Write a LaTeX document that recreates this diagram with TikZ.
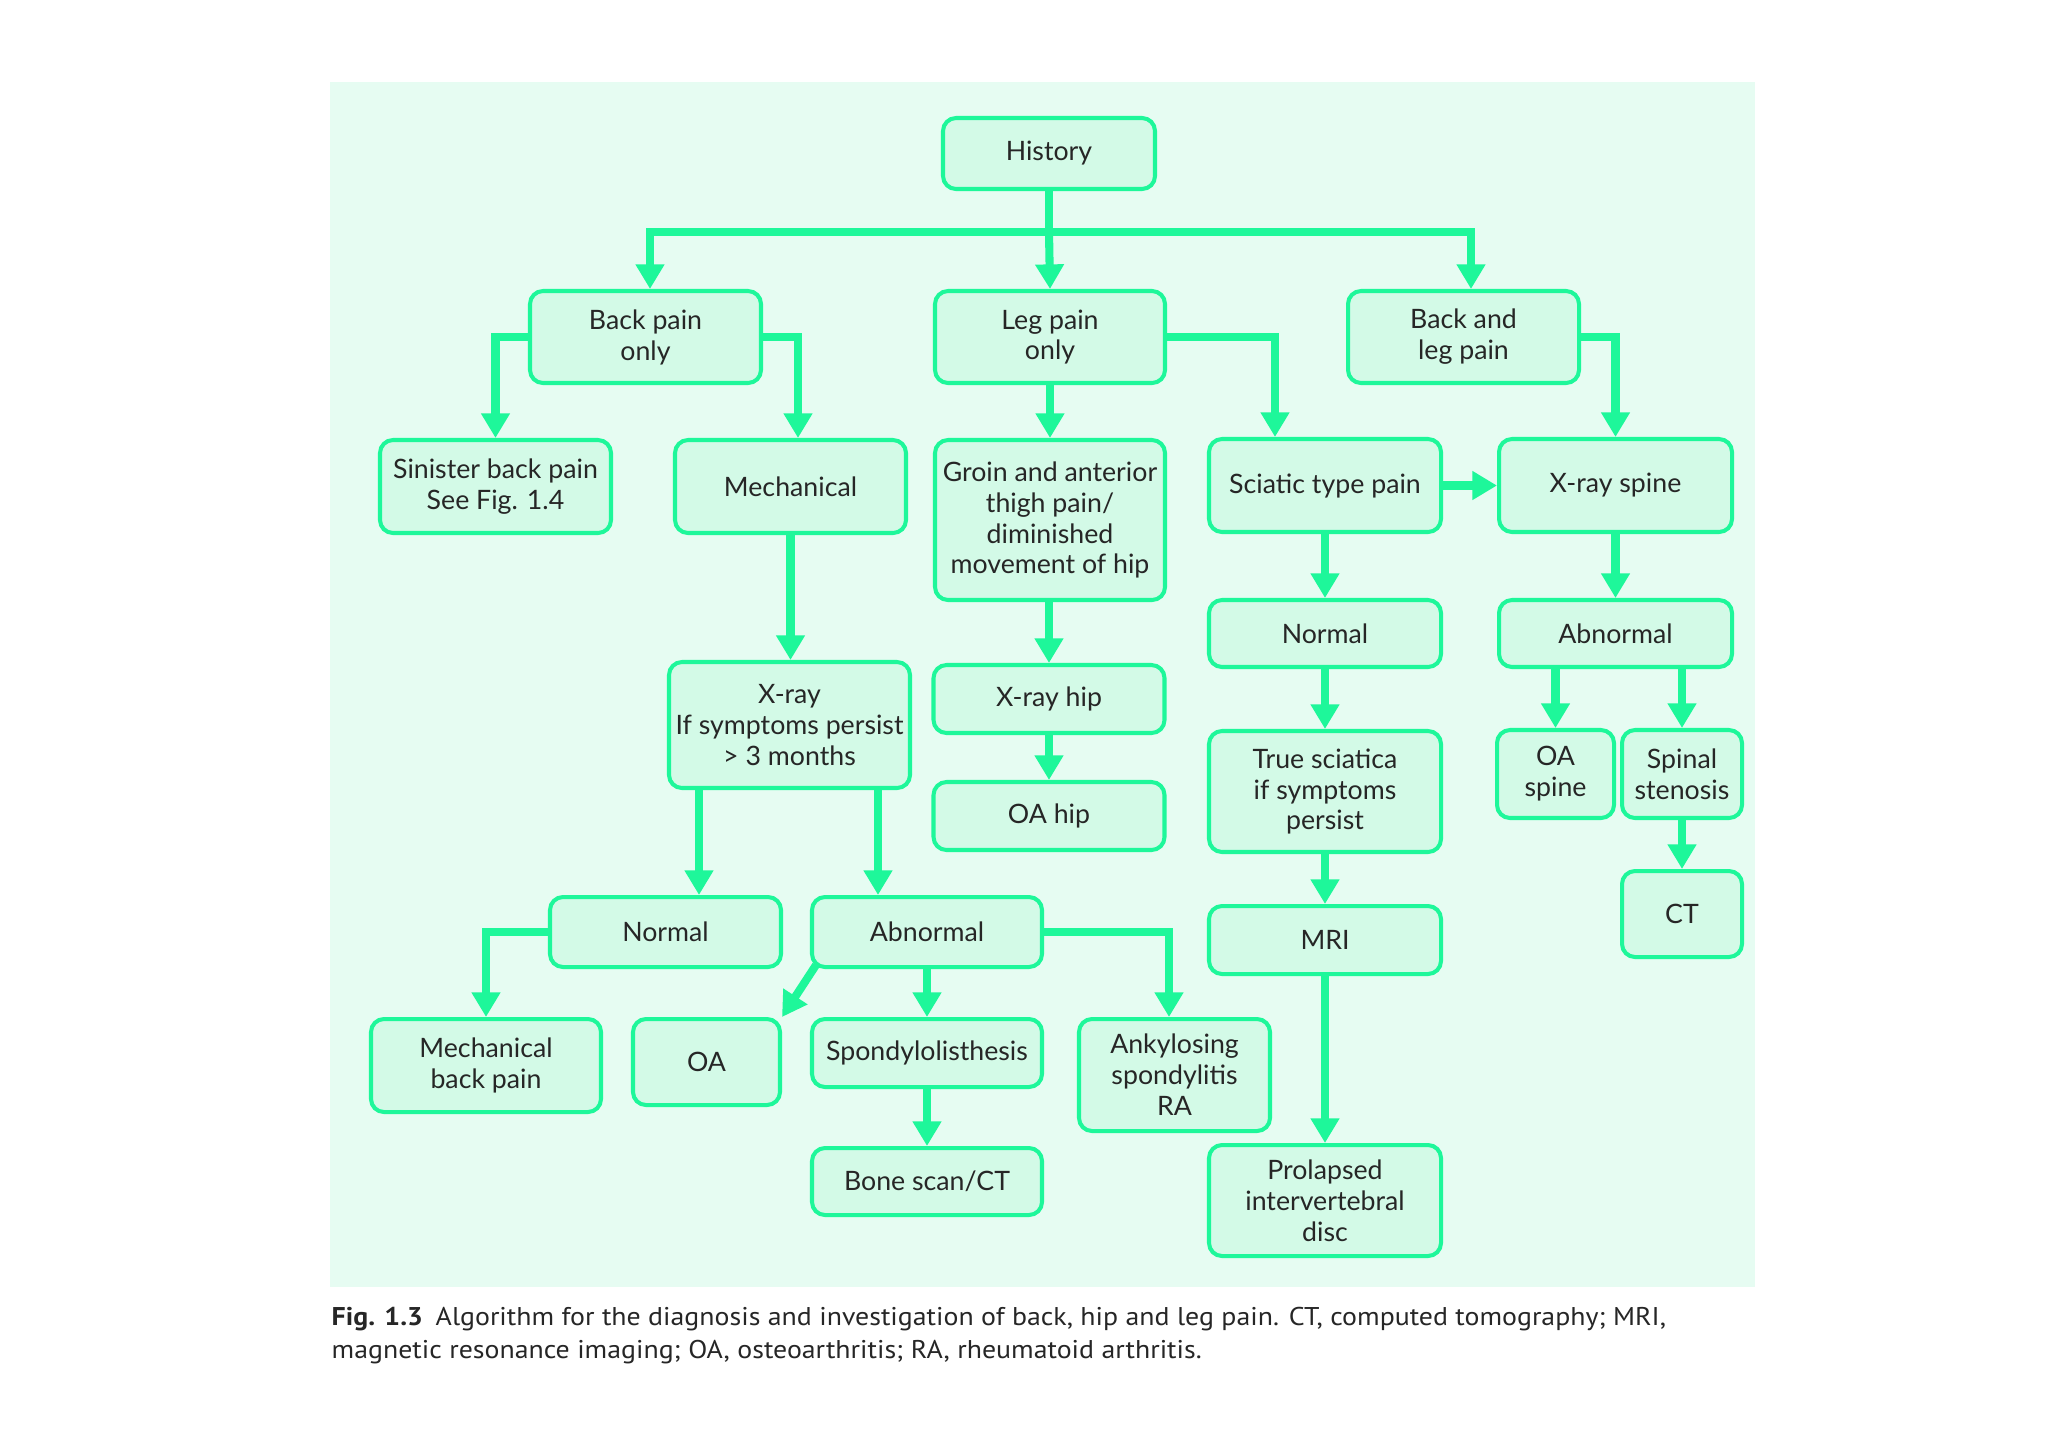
\documentclass[tikz,border=0pt]{standalone}
\usepackage{fontspec}
\setmainfont{Lato}
\newfontfamily\capfont[FakeStretch=1.085]{PT Sans}
\usetikzlibrary{arrows.meta,calc}
\definecolor{gline}{HTML}{1EF79A}
\definecolor{gfill}{HTML}{D3FAE7}
\definecolor{gback}{HTML}{E6FCF2}
\begin{document}
\begin{tikzpicture}[x=0.1mm,y=-0.1mm,
  box/.style={draw=gline, fill=gfill, line width=1.15pt, rounded corners=1.3mm,
    align=center, inner sep=0pt, text=black!85,
    font=\fontsize{7.6}{8.8}\selectfont},
  conn/.style={draw=gline, line width=2.3pt},
  arr/.style={conn, -{Triangle[width=7.8pt,length=7pt]}}]
\useasboundingbox (0,0) rectangle (2048,1447);
\fill[white] (0,0) rectangle (2048,1447);
\fill[gback] (330,82) rectangle (1755,1287);

% nodes
\node[box, minimum width=21.2mm, minimum height=7.1mm] (history) at (1049,153.5) {History};
\node[box, minimum width=23.1mm, minimum height=9.2mm] (backpain) at (645.5,337) {Back pain\\only};
\node[box, minimum width=23.0mm, minimum height=9.2mm] (legpain) at (1050,337) {Leg pain\\only};
\node[box, minimum width=23.1mm, minimum height=9.2mm] (backleg) at (1463.5,337) {Back and\\leg pain};
\node[box, minimum width=23.1mm, minimum height=9.3mm] (sinister) at (495.5,486.5) {Sinister back pain\\See Fig. 1.4};
\node[box, minimum width=23.1mm, minimum height=9.3mm] (mech) at (790.5,486.5) {Mechanical};
\node[box, minimum width=23.0mm, minimum height=16.0mm] (groin) at (1050,520) {Groin and anterior\\thigh pain/\\diminished\\movement of hip};
\node[box, minimum width=23.2mm, minimum height=9.3mm] (sciatic) at (1325,485.5) {Sciatic type pain};
\node[box, minimum width=23.3mm, minimum height=9.3mm] (xspine) at (1615.5,485.5) {X-ray spine};
\node[box, minimum width=23.2mm, minimum height=6.7mm] (normR) at (1325,633.5) {Normal};
\node[box, minimum width=23.3mm, minimum height=6.7mm] (abnR) at (1615.5,633.5) {Abnormal};
\node[box, minimum width=24.1mm, minimum height=12.6mm] (xray) at (789.5,725) {X-ray\\If symptoms persist\\> 3 months};
\node[box, minimum width=23.1mm, minimum height=6.8mm] (xhip) at (1049,699) {X-ray hip};
\node[box, minimum width=23.1mm, minimum height=6.8mm] (oahip) at (1049,816) {OA hip};
\node[box, minimum width=23.2mm, minimum height=12.1mm] (truesc) at (1325,791.5) {True sciatica\\if symptoms\\persist};
\node[box, minimum width=11.7mm, minimum height=8.8mm] (oaspine) at (1555.5,774) {OA\\spine};
\node[box, minimum width=12.0mm, minimum height=8.8mm] (stenosis) at (1682,774) {Spinal\\stenosis};
\node[box, minimum width=12.0mm, minimum height=8.6mm] (ct) at (1682,914) {CT};
\node[box, minimum width=23.1mm, minimum height=7.0mm] (normL) at (665.5,932) {Normal};
\node[box, minimum width=23.0mm, minimum height=7.0mm] (abnL) at (927,932) {Abnormal};
\node[box, minimum width=23.2mm, minimum height=6.8mm] (mri) at (1325,940) {MRI};
\node[box, minimum width=23.0mm, minimum height=9.3mm] (mbp) at (486,1065.5) {Mechanical\\back pain};
\node[box, minimum width=14.7mm, minimum height=8.6mm] (oa) at (706.5,1062) {OA};
\node[box, minimum width=23.0mm, minimum height=6.8mm] (spondy) at (927,1053) {Spondylolisthesis};
\node[box, minimum width=19.1mm, minimum height=11.2mm] (anky) at (1174.5,1075) {Ankylosing\\spondylitis\\RA};
\node[box, minimum width=23.0mm, minimum height=6.7mm] (bone) at (927,1181.5) {Bone scan/CT};
\node[box, minimum width=23.2mm, minimum height=11.1mm] (prolapsed) at (1325,1200.5) {Prolapsed\\intervertebral\\disc};

% connectors
\coordinate (hj) at (1049,232);
\draw[conn] (history.south) -- (hj);
\draw[arr] (hj) -| ([xshift=0.45mm]backpain.north);
\draw[arr] (hj) -| ([xshift=0.75mm]backleg.north);
\draw[arr] (hj) -- (legpain.north);

\draw[arr] (backpain.west) -| (sinister.north);
\draw[arr] (backpain.east) -| ([xshift=0.75mm]mech.north);
\draw[arr] (legpain.south) -- (groin.north);
\draw[arr] (legpain.east) -| ([xshift=-5mm]sciatic.north);
\draw[arr] (backleg.east) -| (xspine.north);

\draw[arr] (mech.south) -- (mech.south |- xray.north);
\draw[arr] (xhip.north |- groin.south) -- (xhip.north);
\draw[arr] (xhip.south) -- (oahip.north);
\draw[arr] (sciatic.east) -- (xspine.west);
\draw[arr] (sciatic.south) -- (normR.north);
\draw[arr] (normR.south) -- (truesc.north);
\draw[arr] (truesc.south) -- (mri.north);
\draw[arr] (mri.south) -- (prolapsed.north);
\draw[arr] (xspine.south) -- (abnR.north);
\draw[arr] (oaspine.north |- abnR.south) -- (oaspine.north);
\draw[arr] (stenosis.north |- abnR.south) -- (stenosis.north);
\draw[arr] (stenosis.south) -- (ct.north);

\draw[arr] ([xshift=3.35mm]normL.north |- xray.south) -- ([xshift=3.35mm]normL.north);
\draw[arr] ([xshift=-4.9mm]abnL.north |- xray.south) -- ([xshift=-4.9mm]abnL.north);
\draw[arr] (normL.west) -| (mbp.north);
\draw[arr] ([xshift=0.6mm,yshift=0.4mm]abnL.south west) -- (oa.north east);
\draw[arr] (abnL.south) -- (spondy.north);
\draw[arr] (abnL.east) -| ([xshift=-0.55mm]anky.north);
\draw[arr] (spondy.south) -- (bone.north);

% caption
\node[anchor=base west, inner sep=0pt, text=black!85, font=\capfont\fontsize{7.3}{8}\selectfont] (cap1) at (331,1325)
  {{\bfseries Fig. 1.3}\enspace Algorithm for the diagnosis and investigation of back, hip and leg pain. CT, computed tomography; MRI,};
\node[anchor=base west, inner sep=0pt, text=black!85, font=\capfont\fontsize{7.3}{8}\selectfont] (cap2) at (331,1358)
  {magnetic resonance imaging; OA, osteoarthritis; RA, rheumatoid arthritis.};
\end{tikzpicture}
\end{document}
